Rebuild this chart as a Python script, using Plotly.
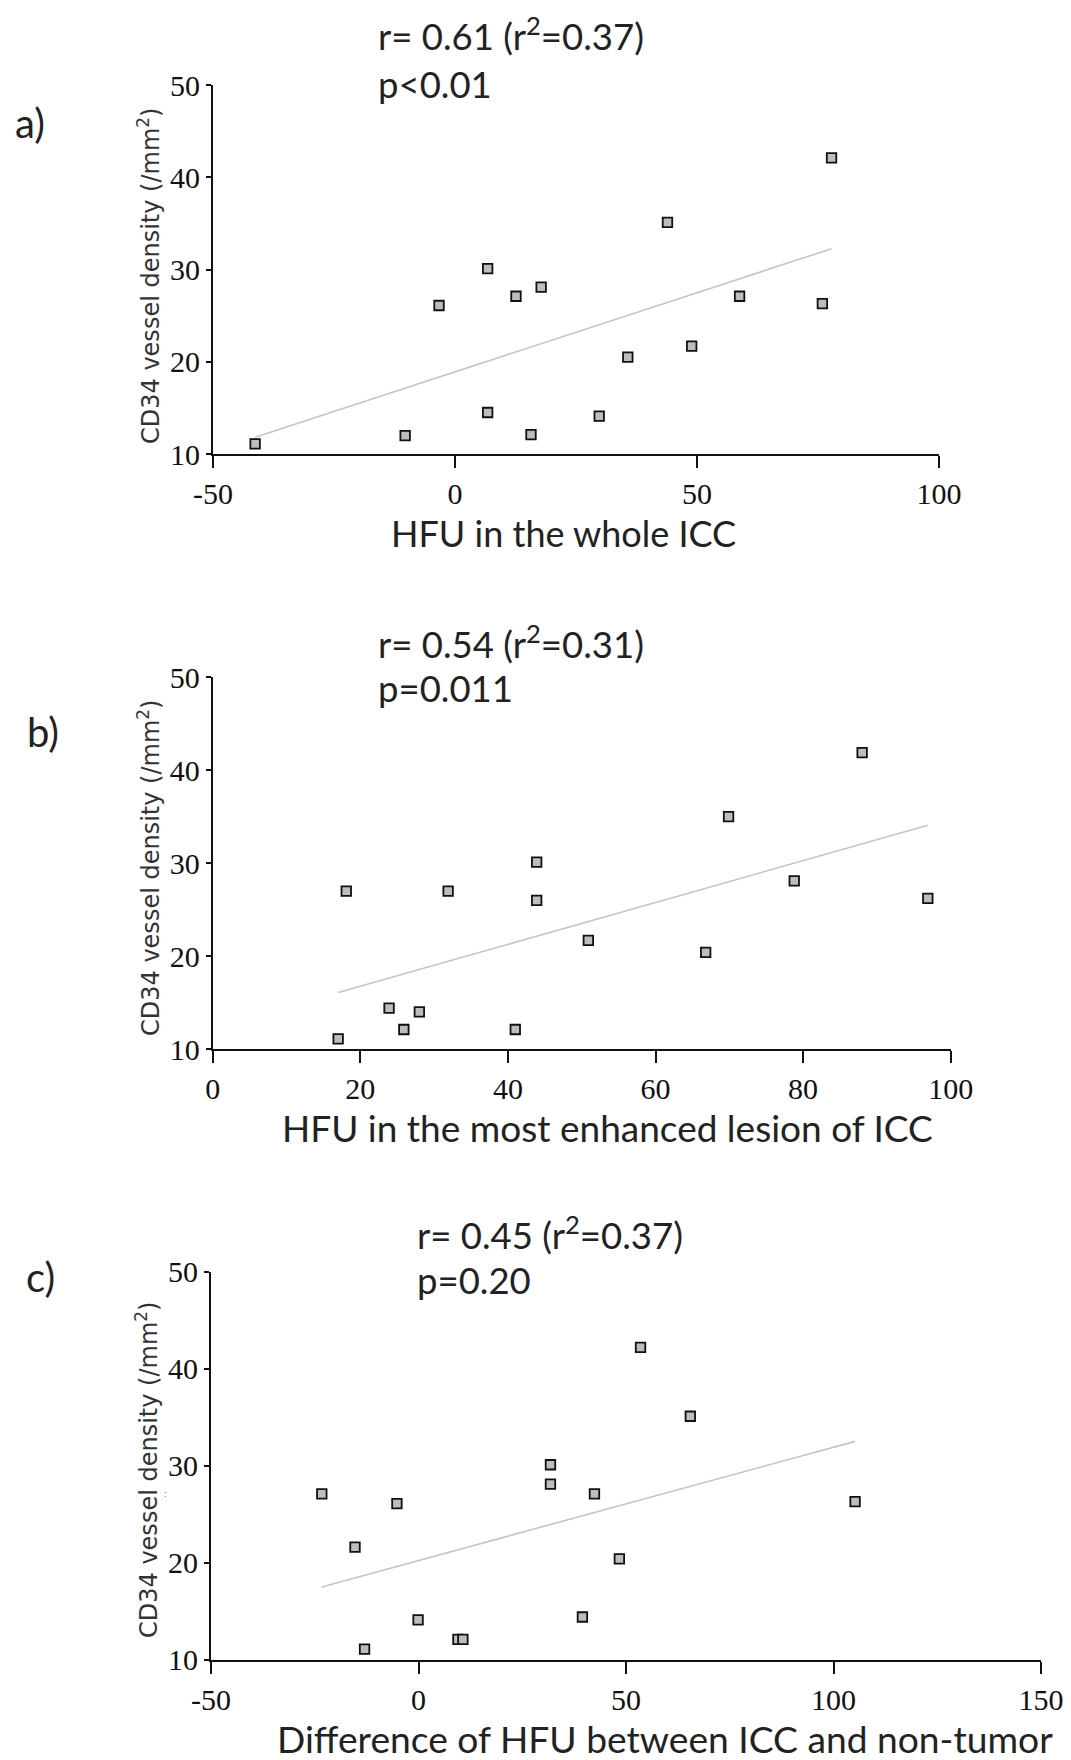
import numpy as np
import plotly.graph_objects as go

# the page body has an 8px margin, so the figure is drawn 8px in from the corner
OFF = 8
W, H = 1071 - OFF, 1760 - OFF

# ---- data ----
hfu_whole = [-41.3, -10.3, -3.3, 6.75, 6.75, 12.6, 17.8, 15.7, 29.8, 35.7, 43.9, 48.9, 58.8, 75.9, 77.8]
cd34_a = [11.1, 12.0, 26.1, 30.1, 14.5, 27.1, 28.1, 12.1, 14.1, 20.5, 35.1, 21.7, 27.1, 26.3, 42.1]

hfu_most = [17.0, 18.1, 23.9, 25.9, 28.0, 31.9, 41.0, 43.9, 43.9, 50.9, 66.8, 69.9, 78.8, 88.0, 96.9]
cd34_b = [11.1, 27.0, 14.4, 12.1, 14.0, 27.0, 12.1, 30.1, 26.0, 21.7, 20.4, 35.0, 28.1, 41.9, 26.2]

hfu_diff = [-23.3, -15.3, -13.0, -5.2, -0.1, 9.5, 10.7, 31.8, 31.8, 42.4, 39.5, 48.4, 53.5, 65.5, 105.2]
cd34_c = [27.1, 21.6, 11.1, 26.1, 14.1, 12.1, 12.1, 30.1, 28.1, 27.1, 14.4, 20.4, 42.2, 35.1, 26.3]

stats_a = ["r= 0.61 (r<sup>2</sup>=0.37)", "p<0.01"]
stats_b = ["r= 0.54 (r<sup>2</sup>=0.31)", "p=0.011"]
stats_c = ["r= 0.45 (r<sup>2</sup>=0.37)", "p=0.20"]

xtitles = ["HFU in the whole ICC", "HFU in the most enhanced lesion of ICC",
           "Difference of HFU between ICC and non-tumor"]
ytitle = "CD34 vessel density (/mm<sup>2</sup>)"
panel_labels = ["a)", "b)", "c)"]

x_ranges = [[-50, 100], [0, 100], [-50, 150]]
x_ticks = [[-50, 0, 50, 100], [0, 20, 40, 60, 80, 100], [-50, 0, 50, 100, 150]]
x_ticktext = [["-50", "0", "50", "100"], ["0", "20", "40", "60", "80", "100"],
              ["-50", "0", "50", "100", "150"]]
y_range = [10, 50]
y_ticks = [10, 20, 30, 40, 50]

# ---- layout geometry (page pixels) ----
boxes = [(213, 939, 85, 454), (212.7, 950.7, 677.3, 1049), (211, 1041, 1271.7, 1659.7)]
stat_pos = [(376, 34, 84), (376, 642, 688), (415, 1233, 1280)]
xtitle_pos = [(563, 533), (607, 1127), (665, 1738)]
xtitle_size = [36, 37, 37.2]
ytitle_pos = [(149, 276), (149, 868), (147, 1470)]
label_pos = [(30, 123), (43, 732), (40, 1277)]


def px(x):
    return (x - OFF) / W


def py(y):
    return 1 - (y - OFF) / H


TICKFONT = dict(family="Liberation Serif", size=30, color="#111")
SANS = "Lato"

fig = go.Figure()
datasets = [(hfu_whole, cd34_a), (hfu_most, cd34_b), (hfu_diff, cd34_c)]

layout = dict(width=W, height=H, margin=dict(l=0, r=0, t=0, b=0, pad=0, autoexpand=False),
              plot_bgcolor="white", paper_bgcolor="white", showlegend=False)
annotations = []

for i, ((xs, ys), box) in enumerate(zip(datasets, boxes)):
    n = "" if i == 0 else str(i + 1)
    xa, ya = "x" + n, "y" + n
    l, r, t, b = box
    xs_arr = np.array(xs)
    ys_arr = np.array(ys)
    slope, icpt = np.polyfit(xs_arr, ys_arr, 1)
    xl = np.array([xs_arr.min(), xs_arr.max()])
    fig.add_trace(go.Scatter(x=xl, y=slope * xl + icpt, mode="lines",
                             line=dict(color="#c4c4c4", width=1.6),
                             xaxis=xa, yaxis=ya, hoverinfo="skip"))
    fig.add_trace(go.Scatter(x=xs, y=ys, mode="markers",
                             marker=dict(symbol="square", size=9.5, color="#bdbdbd",
                                         line=dict(color="#111", width=1.8)),
                             xaxis=xa, yaxis=ya, cliponaxis=False))
    layout["xaxis" + n] = dict(domain=[px(l), px(r)], range=x_ranges[i], tickvals=x_ticks[i],
                               ticktext=x_ticktext[i],
                               showline=True, linecolor="#111", linewidth=2.2,
                               ticks="outside", ticklen=12, tickwidth=2, tickcolor="#111",
                               showgrid=False, zeroline=False, tickfont=TICKFONT,
                               anchor=ya, fixedrange=True, automargin=False)
    layout["yaxis" + n] = dict(domain=[py(b), py(t)], range=y_range, tickvals=y_ticks,
                               showline=True, linecolor="#111", linewidth=2,
                               ticks="outside", ticklen=5, tickwidth=1.5, tickcolor="#111",
                               showgrid=False, zeroline=False, tickfont=TICKFONT,
                               anchor=xa, ticklabelstandoff=0, fixedrange=True, automargin=False)
    stats = [stats_a, stats_b, stats_c][i]
    sx, sy1, sy2 = stat_pos[i]
    for txt, sy in zip(stats, (sy1, sy2)):
        annotations.append(dict(text=txt, x=px(sx), y=py(sy), xref="paper", yref="paper",
                                xanchor="left", yanchor="middle", showarrow=False,
                                font=dict(family=SANS, size=36.5, color="#222")))
    tx, ty = xtitle_pos[i]
    annotations.append(dict(text=xtitles[i], x=px(tx), y=py(ty), xref="paper", yref="paper",
                            xanchor="center", yanchor="middle", showarrow=False,
                            font=dict(family=SANS, size=xtitle_size[i], color="#222")))
    yx, yy = ytitle_pos[i]
    annotations.append(dict(text=ytitle, x=px(yx), y=py(yy), xref="paper", yref="paper",
                            xanchor="center", yanchor="middle", showarrow=False, textangle=-90,
                            font=dict(family="DejaVu Sans", size=24, color="#333")))
    lx, ly = label_pos[i]
    annotations.append(dict(text=panel_labels[i], x=px(lx), y=py(ly), xref="paper", yref="paper",
                            xanchor="center", yanchor="middle", showarrow=False,
                            font=dict(family=SANS, size=40, color="#222")))

annotations.append(dict(text=":", x=px(165), y=py(1494), xref="paper", yref="paper",
                        xanchor="center", yanchor="middle", showarrow=False,
                        font=dict(family="DejaVu Sans", size=8, color="#555")))

layout["annotations"] = annotations
fig.update_layout(**layout)
fig.write_html("out.html")
